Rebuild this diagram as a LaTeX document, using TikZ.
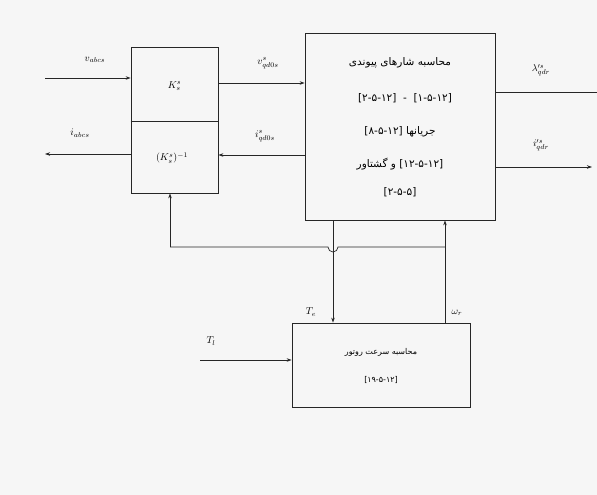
\documentclass[tikz,border=0pt]{standalone}
\usepackage{fontspec}
\usetikzlibrary{arrows.meta,calc}
\TeXXeTstate=1
\newfontfamily\arabicfont[Script=Arabic]{DejaVu Sans}
\begin{document}
\begin{tikzpicture}[x=1pt,y=-1pt,
  blk/.style={draw=black!85,line width=0.8pt,inner sep=0pt,minimum width=#1},
  arr/.style={-{Stealth[length=5pt,width=3.5pt]},draw=black!85,line width=0.7pt},
  ln/.style={draw=black!85,line width=0.7pt},
  fa/.style={font=\arabicfont\fontsize{10.5}{12}\selectfont,inner sep=0pt},
  fb/.style={font=\arabicfont\fontsize{8}{10}\selectfont,inner sep=0pt},
  lbl/.style={font=\normalsize,inner sep=0pt}]
\fill[gray!7] (0,0) rectangle (597,495);
\useasboundingbox (0,0) rectangle (597,495);
% blocks
\node[blk=87pt,minimum height=146pt] (left) at (174.5,120) {};
\coordinate (div) at (174.5,121);
\draw[ln,line width=0.8pt] (left.west |- div) -- (left.east |- div);
\node[lbl] (kt) at (174.5,86) {$K_{s}^{s}$};
\node[lbl] (kb) at (172,158) {$(K_{s}^{s})^{-1}$};
\node[blk=190pt,minimum height=187pt] (main) at (400,126.5) {};
\node[blk=178pt,minimum height=84pt] (low) at (381,365) {};
% main texts
\node[fa] (m1) at (400,63) {\beginR محاسبه شارهای پیوندی\endR};
\node[fa] (m2) at (405,98) {\beginL[۲-۵-۱۲] \ - \ [۱-۵-۱۲]\endL};
\node[fa] (m3) at (400,132) {\beginR جریانها \beginL[۸-۵-۱۲]\endL\endR};
\node[fa] (m4) at (400,164) {\beginR\beginL[۱۲-۵-۱۲]\endL{} و گشتاور\endR};
\node[fa] (m5) at (400,192) {\beginL[۲-۵-۵]\endL};
\node[fb] (l1) at (381,352) {\beginR محاسبه سرعت روتور\endR};
\node[fb] (l2) at (381,380) {\beginL[۱۹-۵-۱۲]\endL};
% coordinates
\coordinate (vin) at (45,78);
\coordinate (iout) at (45,154);
\coordinate (ro1) at (597,92);
\coordinate (ro2) at (592,167);
\coordinate (tl) at (200,360);
\coordinate (fbL) at (170,247);
\coordinate (fbR) at (445,247);
\coordinate (hop) at (333,247);
% left I/O
\draw[arr] (vin) -- (vin -| left.west);
\draw[arr] (iout -| left.west) -- (iout);
\node[lbl] (vlab) at (95,60) {$v_{abcs}$};
\node[lbl] (ilab) at (80,133) {$i_{abcs}$};
% between
\draw[arr] (left.east |- 0,83) -- (main.west |- 0,83);
\draw[arr] (main.west |- 0,155) -- (left.east |- 0,155);
\node[lbl] (vq) at (268,63) {$v^{s}_{qd0s}$};
\node[lbl] (iq) at (265,136) {$i^{s}_{qd0s}$};
% right outputs
\draw[ln] (main.east |- ro1) -- (ro1);
\draw[arr] (main.east |- ro2) -- (ro2);
\node[lbl] (o1) at (541,70) {$\lambda'^{s}_{qdr}$};
\node[lbl] (o2) at (541,145) {$i'^{s}_{qdr}$};
% feedback
\draw[arr] (fbL) -- (fbL |- left.south);
\draw[ln] (fbL) -- ($(hop)+(-5,0)$) arc[start angle=180,end angle=0,radius=5] -- (fbR);
\draw[arr] (main.south -| hop) -- (low.north -| hop);
\draw[arr] (low.north -| fbR) -- (main.south -| fbR);
\node[lbl] (te) at (311,312) {$T_e$};
\node[lbl] (wr) at (457,313) {$\omega_r$};
% load torque
\draw[arr] (tl) -- (tl -| low.west);
\node[lbl] (tll) at (211,341) {$T_l$};
\end{tikzpicture}
\end{document}
